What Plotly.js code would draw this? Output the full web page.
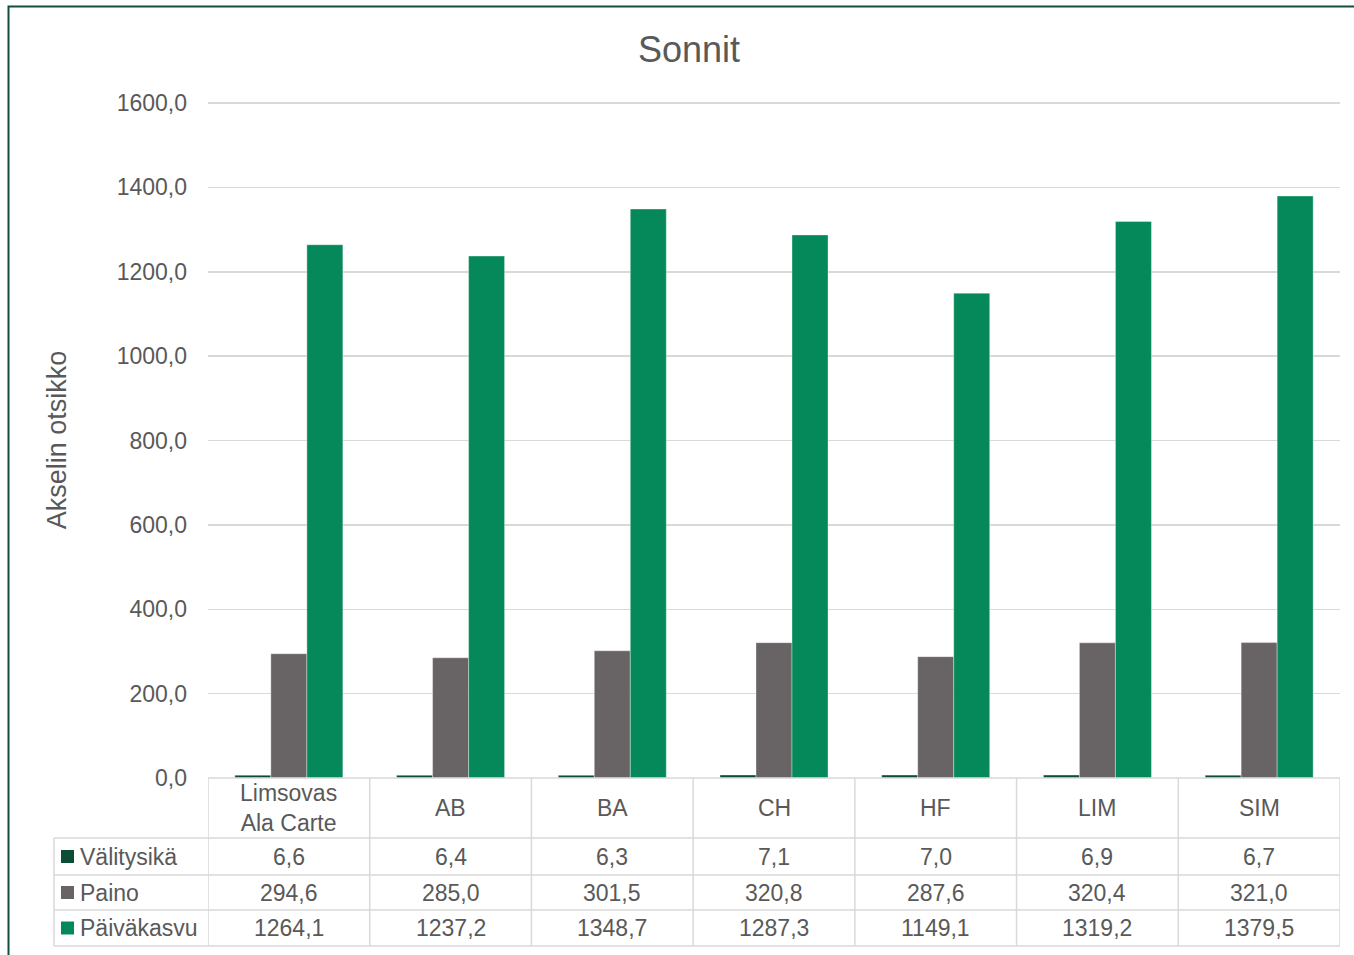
<!DOCTYPE html>
<html>
<head>
<meta charset="utf-8">
<script src="https://cdn.plot.ly/plotly-3.0.1.min.js"></script>
<style>html,body{margin:0;padding:0;background:#fff;}#chart{width:1354px;height:955px;}</style>
</head>
<body>
<div id="chart"></div>
<script>
// ---- data ----
const categories = ['Limsovas<br>Ala Carte', 'AB', 'BA', 'CH', 'HF', 'LIM', 'SIM'];
const seriesNames = ['Välitysikä', 'Paino', 'Päiväkasvu'];
const valitysika = [6.6, 6.4, 6.3, 7.1, 7.0, 6.9, 6.7];
const paino = [294.6, 285.0, 301.5, 320.8, 287.6, 320.4, 321.0];
const paivakasvu = [1264.1, 1237.2, 1348.7, 1287.3, 1149.1, 1319.2, 1379.5];
const yTickVals = [0, 200, 400, 600, 800, 1000, 1200, 1400, 1600];

// ---- styles ----
const colors = ['#0b4d35', '#686365', '#06895a'];
const txt = '#595959';
const grid = '#d9d9d9';
const FONT = 'Liberation Sans, Arial, sans-serif';
const W = 1354, H = 955;
const M = {l: 208, r: 14, t: 102, b: 177};
const plotH = H - M.t - M.b;
const py = p => (H - M.b - p) / plotH;          // pixel y -> paper y
const pxp = p => (p - M.l) / (W - M.l - M.r);   // pixel x -> paper x
const fmt = v => v.toFixed(1).replace('.', ',');

const seriesVals = [valitysika, paino, paivakasvu];
const traces = seriesVals.map((vals, k) => ({
  type: 'bar', x: categories, y: vals, name: seriesNames[k],
  marker: {color: colors[k], line: {color: 'rgba(255,255,255,0.6)', width: 0.6}},
  hoverinfo: 'x+y+name'
}));

const shapes = [];
const annotations = [];
const line = (x0, y0, x1, y1, xref) => shapes.push({type: 'line', xref: xref, yref: 'paper',
  x0: x0, x1: x1, y0: y0, y1: y1, line: {color: grid, width: 1.5}, layer: 'above'});

// table rows (pixel y of row borders)
const rowsY = [778, 838, 875, 910, 946];
const tableLeft = 54;
// horizontal lines
line(-0.5, py(rowsY[0]), 6.5, py(rowsY[0]), 'x');
for (let r = 1; r < rowsY.length; r++) {
  line(pxp(tableLeft), py(rowsY[r]), 1, py(rowsY[r]), 'paper');
}
// vertical lines
line(pxp(tableLeft), py(rowsY[1]), pxp(tableLeft), py(rowsY[4]), 'paper');
for (let i = 0; i <= categories.length; i++) {
  line(i - 0.5, py(rowsY[0]), i - 0.5, py(rowsY[4]), 'x');
}
// header labels
categories.forEach((c, i) => {
  annotations.push({xref: 'x', yref: 'paper', x: i, y: py((rowsY[0] + rowsY[1]) / 2),
    text: c, showarrow: false, xanchor: 'center', yanchor: 'middle',
    font: {family: FONT, size: 23, color: txt}});
});
// data rows
seriesVals.forEach((vals, k) => {
  const yc = py((rowsY[k + 1] + rowsY[k + 2]) / 2);
  shapes.push({type: 'rect', xref: 'paper', yref: 'paper',
    x0: pxp(61), x1: pxp(74), y0: yc - 6.5 / plotH, y1: yc + 6.5 / plotH,
    fillcolor: colors[k], line: {width: 0}});
  annotations.push({xref: 'paper', yref: 'paper', x: pxp(78), y: yc, text: seriesNames[k],
    showarrow: false, xanchor: 'left', yanchor: 'middle',
    font: {family: FONT, size: 23, color: txt}});
  vals.forEach((v, i) => {
    annotations.push({xref: 'x', yref: 'paper', x: i, y: yc, text: fmt(v),
      showarrow: false, xanchor: 'center', yanchor: 'middle',
      font: {family: FONT, size: 23, color: txt}});
  });
});
// outer chart border
shapes.push({type: 'rect', xref: 'paper', yref: 'paper',
  x0: pxp(8.5), x1: pxp(1380), y0: py(6.5), y1: py(990),
  line: {color: '#115036', width: 2}, fillcolor: 'rgba(0,0,0,0)', layer: 'above'});

const layout = {
  width: W, height: H,
  margin: M,
  paper_bgcolor: '#fff', plot_bgcolor: '#fff',
  separators: ', ',
  showlegend: false,
  bargap: 0.332, bargroupgap: 0,
  barmode: 'group',
  title: {text: 'Sonnit', font: {family: FONT, size: 36, color: txt},
    xref: 'container', x: 689 / W, yref: 'container', y: 1 - 49 / H, xanchor: 'center', yanchor: 'middle'},
  xaxis: {type: 'category', range: [-0.5, 6.5], showticklabels: false, showgrid: false,
    zeroline: false, showline: false, ticks: '', fixedrange: true},
  yaxis: {range: [0, 1602.4], tickvals: yTickVals, tickformat: '.1f',
    showgrid: true, gridcolor: grid, gridwidth: 1.5, zeroline: false, showline: false,
    ticks: '', ticklabelstandoff: 20,
    tickfont: {family: FONT, size: 23, color: txt},
    title: {text: 'Akselin otsikko', font: {family: FONT, size: 27, color: txt}, standoff: 42},
    fixedrange: true},
  shapes: shapes,
  annotations: annotations
};

Plotly.newPlot('chart', traces, layout, {displayModeBar: false, staticPlot: true});
</script>
</body>
</html>
